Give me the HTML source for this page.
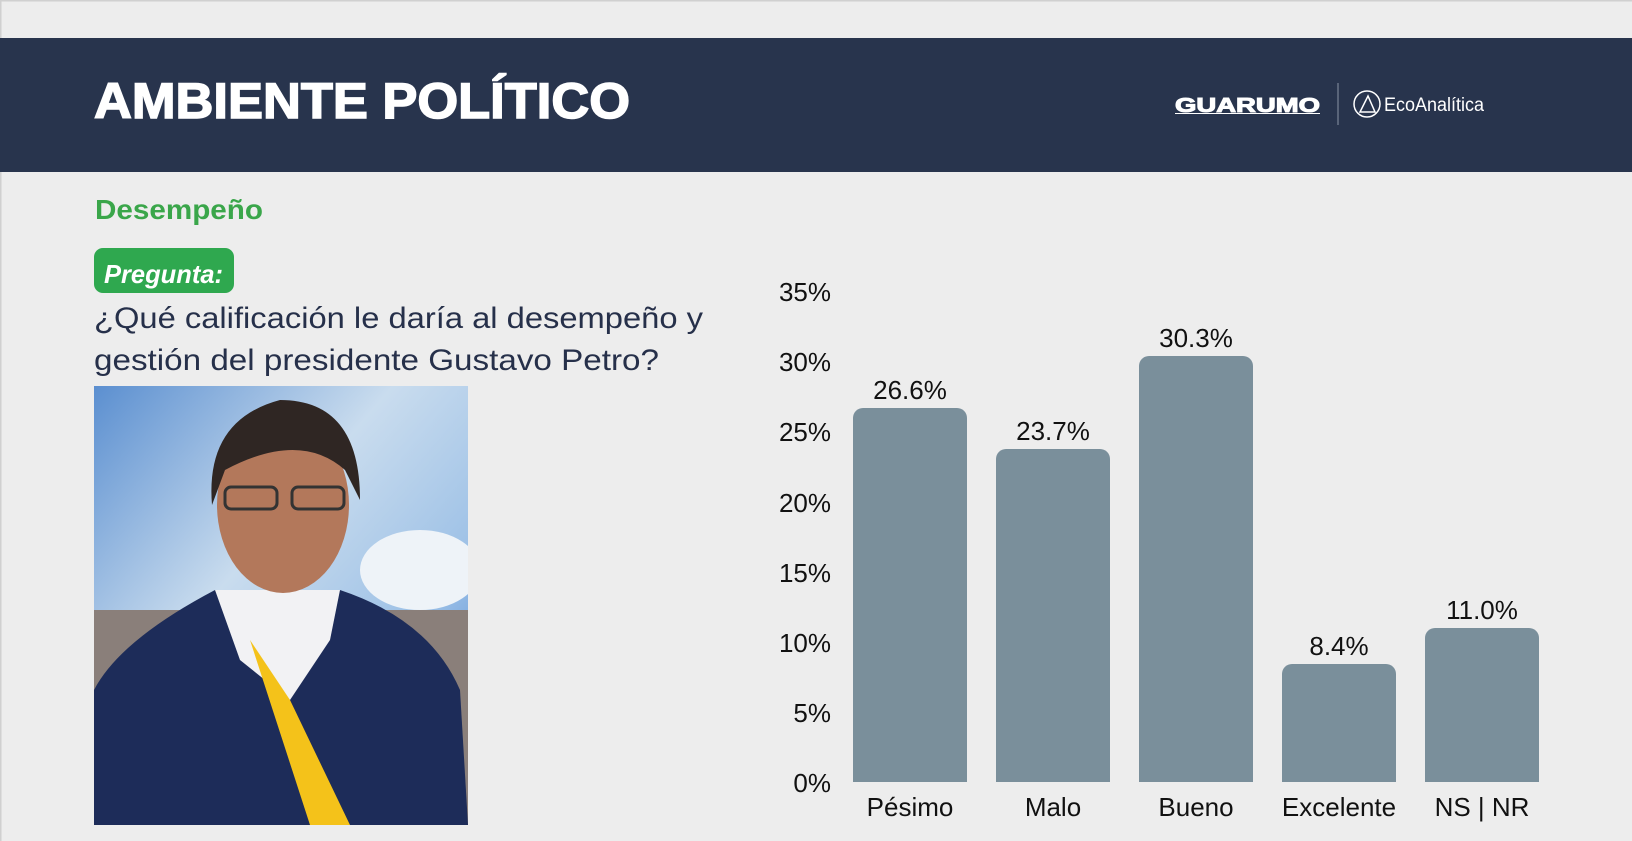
<!DOCTYPE html>
<html><head><meta charset="utf-8"><style>
html,body{margin:0;padding:0;background:#ededed;}
body{width:1632px;height:841px;overflow:hidden;position:relative;font-family:"Liberation Sans",sans-serif;}
</style></head><body>
<svg width="1632" height="841" viewBox="0 0 1632 841" xmlns="http://www.w3.org/2000/svg" style="position:absolute;left:0;top:0">
<rect x="0" y="0" width="1632" height="841" fill="#ededed"/>
<rect x="0" y="0" width="1632" height="1.5" fill="#d0d0d0"/>
<rect x="0" y="0" width="1.5" height="841" fill="#d0d0d0"/>
<rect x="0" y="38" width="1632" height="134" fill="#28344d"/>
<text x="94" y="118" font-family="Liberation Sans" font-weight="bold" font-size="50" fill="#ffffff" textLength="536" lengthAdjust="spacingAndGlyphs" stroke="#ffffff" stroke-width="1.5">AMBIENTE POLÍTICO</text>
<text x="1175" y="112" font-family="Liberation Sans" font-weight="bold" font-size="20" fill="#ffffff" textLength="145" lengthAdjust="spacingAndGlyphs" stroke="#fff" stroke-width="1">GUARUMO</text>
<rect x="1175" y="113" width="145" height="1" fill="#ffffff"/>
<rect x="1337.5" y="83" width="1" height="42" fill="#8a93a5"/>
<circle cx="1367" cy="104" r="13" fill="none" stroke="#fff" stroke-width="1.5"/>
<path d="M1360 112 L1368 96 L1375 112 Z" fill="none" stroke="#fff" stroke-width="1.5"/>
<text x="1384" y="111" font-family="Liberation Sans" font-size="19" fill="#ffffff" textLength="100" lengthAdjust="spacingAndGlyphs">EcoAnalítica</text>
<text x="95" y="219" font-family="Liberation Sans" font-weight="bold" font-size="28" fill="#3aa64a" textLength="168" lengthAdjust="spacingAndGlyphs">Desempeño</text>
<rect x="94" y="248" width="140" height="45" rx="9" fill="#2fa84f"/>
<text x="104" y="283" font-family="Liberation Sans" font-weight="bold" font-style="italic" font-size="26" fill="#ffffff" textLength="119" lengthAdjust="spacingAndGlyphs">Pregunta:</text>
<text x="94" y="328" font-family="Liberation Sans" font-size="30" fill="#26304a" textLength="609" lengthAdjust="spacingAndGlyphs">¿Qué calificación le daría al desempeño y</text>
<text x="94" y="370" font-family="Liberation Sans" font-size="30" fill="#26304a" textLength="565" lengthAdjust="spacingAndGlyphs">gestión del presidente Gustavo Petro?</text>
<defs>
<linearGradient id="sky" x1="0" y1="0" x2="1" y2="1"><stop offset="0" stop-color="#5b8fd0"/><stop offset="0.4" stop-color="#c9dcee"/><stop offset="0.7" stop-color="#9cc0e6"/><stop offset="1" stop-color="#2a6fd0"/></linearGradient>
<clipPath id="ph"><rect x="94" y="386" width="374" height="439"/></clipPath>
</defs>
<g clip-path="url(#ph)">
<rect x="94" y="386" width="374" height="439" fill="url(#sky)"/>
<rect x="94" y="610" width="374" height="215" fill="#8a7f7a"/>
<ellipse cx="420" cy="570" rx="60" ry="40" fill="#eef3f8"/>
<path d="M94 825 L94 690 Q120 640 215 590 L340 590 Q430 620 460 690 L468 825 Z" fill="#1d2c59"/>
<path d="M215 590 L340 590 L330 640 L290 700 L240 660 Z" fill="#f2f2f4"/>
<path d="M250 640 L290 700 L350 825 L310 825 Z" fill="#f4c21a"/>
<ellipse cx="283" cy="505" rx="66" ry="88" fill="#b3785b"/>
<path d="M212 505 Q205 420 280 400 Q360 400 360 500 L345 470 Q300 430 225 470 Z" fill="#2f2623"/>
<rect x="225" y="487" width="52" height="22" rx="6" fill="none" stroke="#333" stroke-width="3"/>
<rect x="292" y="487" width="52" height="22" rx="6" fill="none" stroke="#333" stroke-width="3"/>
</g>
<g font-family="Liberation Sans" font-size="26" fill="#111" text-anchor="end">
<text x="831" y="301">35%</text>
<text x="831" y="371">30%</text>
<text x="831" y="441">25%</text>
<text x="831" y="512">20%</text>
<text x="831" y="582">15%</text>
<text x="831" y="652">10%</text>
<text x="831" y="722">5%</text>
<text x="831" y="792">0%</text>
</g>
<g fill="#7a8f9b">
<path d="M853 782 V418 a10 10 0 0 1 10 -10 H957 a10 10 0 0 1 10 10 V782 Z"/>
<path d="M996 782 V459 a10 10 0 0 1 10 -10 H1100 a10 10 0 0 1 10 10 V782 Z"/>
<path d="M1139 782 V366 a10 10 0 0 1 10 -10 H1243 a10 10 0 0 1 10 10 V782 Z"/>
<path d="M1282 782 V674 a10 10 0 0 1 10 -10 H1386 a10 10 0 0 1 10 10 V782 Z"/>
<path d="M1425 782 V638 a10 10 0 0 1 10 -10 H1529 a10 10 0 0 1 10 10 V782 Z"/>
</g>
<g font-family="Liberation Sans" font-size="26" fill="#111" text-anchor="middle">
<text x="910" y="399">26.6%</text>
<text x="1053" y="440">23.7%</text>
<text x="1196" y="347">30.3%</text>
<text x="1339" y="655">8.4%</text>
<text x="1482" y="619">11.0%</text>
<text x="910" y="816">Pésimo</text>
<text x="1053" y="816">Malo</text>
<text x="1196" y="816">Bueno</text>
<text x="1339" y="816">Excelente</text>
<text x="1482" y="816">NS | NR</text>
</g>
</svg>
</body></html>
